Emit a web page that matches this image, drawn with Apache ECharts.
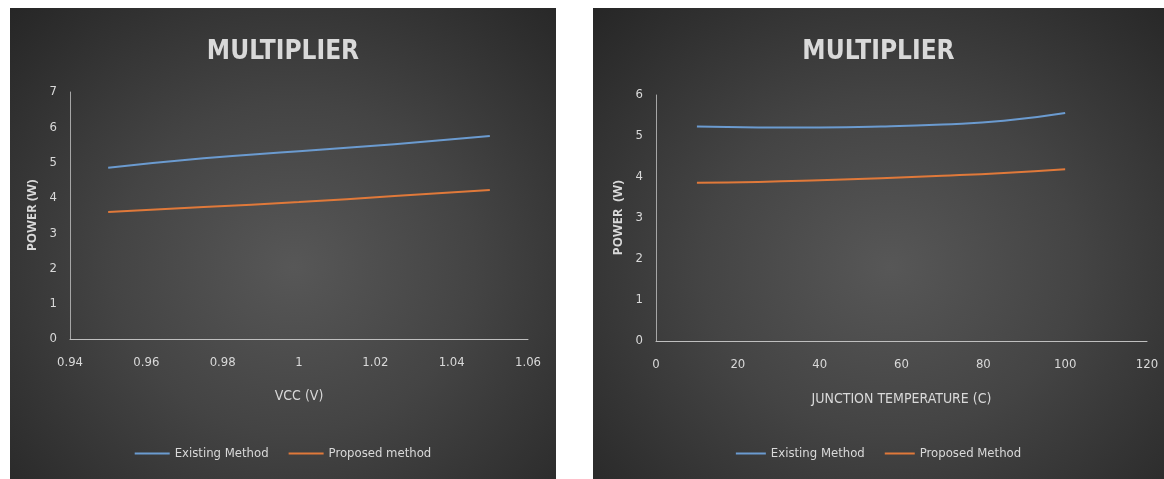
<!DOCTYPE html>
<html>
<head>
<meta charset="utf-8">
<title>MULTIPLIER</title>
<script src="https://cdn.jsdelivr.net/npm/echarts@6/dist/echarts.min.js"></script>
<style>
	body{margin:0;background:#fff;width:1164px;height:479px;overflow:hidden;position:relative;}
	.panel{position:absolute;background:radial-gradient(ellipse at 52% 55%,#575757 0%,#444 45%,#2e2e2e 85%,#262626 100%);}
</style>
</head>
<body>
<div id="vcc" class="panel" style="left:10px;top:8px;width:546px;height:471px;"></div>
<div id="temp" class="panel" style="left:593px;top:8px;width:571px;height:471px;"></div>
<script>
	// left chart : power vs VCC
	var vccX=[0.95,0.975,1.0,1.025,1.05];
	var vccExisting=[4.85,5.12,5.32,5.52,5.75];
	var vccProposed=[3.6,3.74,3.88,4.05,4.22];
	var vccNames=["Existing Method","Proposed method"];

	// right chart : power vs junction temperature
	var tempX=[10,25,40,55,70,85,100];
	var tempExisting=[5.23,5.21,5.21,5.23,5.28,5.37,5.56];
	var tempProposed=[3.86,3.88,3.92,3.97,4.03,4.1,4.19];
	var tempNames=["Existing Method","Proposed Method"];

	var txt='#d9d9d9';
	var narrow='"Liberation Sans Narrow","DejaVu Sans Condensed","Roboto",sans-serif';

	function pairs(xs,ys){
		var out=[];
		for(var i=0;i<xs.length;i++){
			out.push([xs[i],ys[i]]);
		}
		return out;
	}

	function getOption(o){
		return {
			animation:false,
			backgroundColor:'transparent',
			title:{
				text:'MULTIPLIER',left:'center',top:26,
				textStyle:{color:txt,fontSize:26,fontWeight:'bold',fontFamily:narrow}
			},
			legend:{
				bottom:14,left:'center',itemWidth:o.iconW,itemHeight:2,itemGap:20,
				icon:'rect',
				data:o.names,
				textStyle:{color:txt,fontSize:13,fontFamily:narrow}
			},
			grid:o.grid,
			xAxis:{
				type:'value',min:o.xmin,max:o.xmax,interval:o.xstep,
				name:o.xname,nameLocation:'middle',nameGap:o.xgap,
				nameTextStyle:{color:txt,fontSize:14,fontFamily:narrow},
				axisLine:{lineStyle:{color:'#bfbfbf',width:1}},
				axisTick:{show:false},
				splitLine:{show:false},
				axisLabel:{color:txt,fontSize:13,margin:17,fontFamily:narrow,formatter:function(v){return String(+v.toFixed(2));}}
			},
			yAxis:{
				type:'value',min:0,max:o.ymax,interval:1,
				name:o.yname,nameLocation:'middle',nameGap:28,
				nameTextStyle:{color:txt,fontSize:13,fontWeight:'bold',fontFamily:'"Open Sans",sans-serif'},
				axisLine:{show:true,lineStyle:{color:'#a6a6a6',width:1}},
				axisTick:{show:false},
				splitLine:{show:false},
				axisLabel:{color:txt,fontSize:13,margin:13,fontFamily:narrow}
			},
			series:[{
				name:o.names[0],type:'line',smooth:true,symbol:'none',
				lineStyle:{color:'#6b9bd0',width:2},itemStyle:{color:'#6b9bd0'},
				data:pairs(o.x,o.a)
			},{
				name:o.names[1],type:'line',smooth:true,symbol:'none',
				lineStyle:{color:'#e0793a',width:2},itemStyle:{color:'#e0793a'},
				data:pairs(o.x,o.b)
			}]
		};
	}

	var c1=echarts.init(document.getElementById('vcc'));
	c1.setOption(getOption({
		grid:{left:60,right:28,top:84,bottom:140},
		xmin:0.94,xmax:1.06,xstep:0.02,ymax:7,
		xname:'VCC (V)',yname:'POWER (W)',xgap:50,
		names:vccNames,iconW:35,
		x:vccX,a:vccExisting,b:vccProposed
	}));

	var c2=echarts.init(document.getElementById('temp'));
	c2.setOption(getOption({
		grid:{left:63,right:17,top:87,bottom:138},
		xmin:0,xmax:120,xstep:20,ymax:6,
		xname:'JUNCTION TEMPERATURE (C)',yname:'POWER  (W)',xgap:51,
		names:tempNames,iconW:30,
		x:tempX,a:tempExisting,b:tempProposed
	}));
</script>
</body>
</html>
